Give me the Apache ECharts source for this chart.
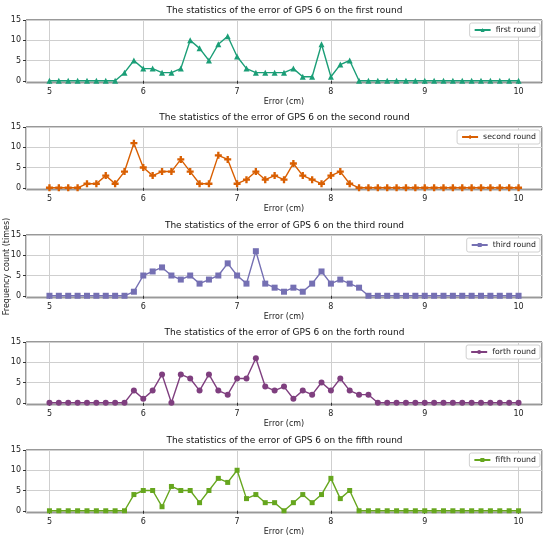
<!DOCTYPE html>
<html>
<head>
<meta charset="utf-8">
<script src="https://cdn.jsdelivr.net/npm/echarts@6/dist/echarts.min.js"></script>
<style>
html,body{margin:0;padding:0;background:#fff;}
#chart{width:550px;height:542px;}
</style>
</head>
<body>
<div id="chart"></div>
<script>
var errorValues = [5.0,5.1,5.2,5.3,5.4,5.5,5.6,5.7,5.8,5.9,6.0,6.1,6.2,6.3,6.4,6.5,6.6,6.7,6.8,6.9,7.0,7.1,7.2,7.3,7.4,7.5,7.6,7.7,7.8,7.9,8.0,8.1,8.2,8.3,8.4,8.5,8.6,8.7,8.8,8.9,9.0,9.1,9.2,9.3,9.4,9.5,9.6,9.7,9.8,9.9,10.0];
var firstRound  = [0,0,0,0,0,0,0,0,2,5,3,3,2,2,3,10,8,5,9,11,6,3,2,2,2,2,3,1,1,9,1,4,5,0,0,0,0,0,0,0,0,0,0,0,0,0,0,0,0,0,0];
var secondRound = [0,0,0,0,1,1,3,1,4,11,5,3,4,4,7,4,1,1,8,7,1,2,4,2,3,2,6,3,2,1,3,4,1,0,0,0,0,0,0,0,0,0,0,0,0,0,0,0,0,0,0];
var thirdRound  = [0,0,0,0,0,0,0,0,0,1,5,6,7,5,4,5,3,4,5,8,5,3,11,3,2,1,2,1,3,6,3,4,3,2,0,0,0,0,0,0,0,0,0,0,0,0,0,0,0,0,0];
var forthRound  = [0,0,0,0,0,0,0,0,0,3,1,3,7,0,7,6,3,7,3,2,6,6,11,4,3,4,1,3,2,5,3,6,3,2,2,0,0,0,0,0,0,0,0,0,0,0,0,0,0,0,0];
var fifthRound  = [0,0,0,0,0,0,0,0,0,4,5,5,1,6,5,5,2,5,8,7,10,3,4,2,2,0,2,4,2,4,8,3,5,0,0,0,0,0,0,0,0,0,0,0,0,0,0,0,0,0,0];
var seriesNames = ['first round','second round','third round','forth round','fifth round'];
var titles = [
  'The statistics of the error of GPS 6 on the first round',
  'The statistics of the error of GPS 6 on the second round',
  'The statistics of the error of GPS 6 on the third round',
  'The statistics of the error of GPS 6 on the forth round',
  'The statistics of the error of GPS 6 on the fifth round'
];
var xAxisTitle = 'Error (cm)';
var yAxisTitle = 'Frequency count (times)';
var allData = [firstRound, secondRound, thirdRound, forthRound, fifthRound];
var colors = ['#1b9e77','#d95f02','#7570b3','#7f3f7f','#66a61e'];
var plusPath = 'path://M-1,-3L1,-3L1,-1L3,-1L3,1L1,1L1,3L-1,3L-1,1L-3,1L-3,-1L-1,-1Z';
var symbols = ['triangle', plusPath, 'rect', 'circle', 'rect'];
var symbolSizes = [6, 7, 6, 6, 5];

var tops = [20, 127, 235, 342, 450];
var gridH = 63;
var font = 'DejaVu Sans';

var grids = [], xAxes = [], yAxes = [], series = [], titleArr = [], legends = [];
for (var i = 0; i < 5; i++) {
  grids.push({left: 26, right: 8, top: tops[i], height: gridH, show: true, borderColor: '#333', borderWidth: 1,
    backgroundColor: '#fff', containLabel: false, outerBoundsMode: 'none'});
  xAxes.push({
    type: 'value', gridIndex: i, min: 4.75, max: 10.25,
    name: xAxisTitle, nameLocation: 'middle', nameGap: 15,
    nameTextStyle: {fontFamily: font, fontSize: 8, color: '#222'},
    axisLine: {show: false},
    axisTick: {show: true, length: 3, lineStyle: {color: '#333'}},
    axisLabel: {showMinLabel: false, showMaxLabel: false, fontFamily: font, fontSize: 8, color: '#222', margin: 5,
      formatter: function (v) { return Math.abs(v - Math.round(v)) < 1e-6 ? String(Math.round(v)) : ''; }},
    splitLine: {show: true, lineStyle: {color: '#cfcfcf', width: 1}}
  });
  yAxes.push({
    type: 'value', gridIndex: i, min: -0.55, max: 15, splitNumber: 3,
    axisLine: {show: false},
    axisTick: {show: true, length: 3, lineStyle: {color: '#333'}},
    axisLabel: {showMinLabel: false, fontFamily: font, fontSize: 8, color: '#222', margin: 5},
    splitLine: {show: true, lineStyle: {color: '#cfcfcf', width: 1}}
  });
  var pts = [];
  for (var j = 0; j < errorValues.length; j++) pts.push([errorValues[j], allData[i][j]]);
  series.push({
    name: seriesNames[i], type: 'line', xAxisIndex: i, yAxisIndex: i, data: pts,
    symbol: symbols[i], symbolSize: symbolSizes[i], showAllSymbol: true,
    lineStyle: {color: colors[i], width: 1.4},
    itemStyle: {color: colors[i]},
    animation: false
  });
  titleArr.push({
    text: titles[i], left: 284.5, textAlign: 'center', top: tops[i] - 14,
    padding: 0,
    textStyle: {fontFamily: font, fontSize: 9, fontWeight: 'normal', color: '#111'}
  });
  legends.push({
    data: [seriesNames[i]], right: 10, top: tops[i] + 3,
    orient: 'vertical', backgroundColor: '#fff', borderColor: '#d0d0d0', borderWidth: 1, borderRadius: 2,
    padding: [3, 4, 3, 4], itemWidth: 16, itemHeight: 5, itemGap: 4,
    textStyle: {fontFamily: font, fontSize: 7.8, color: '#222'}
  });
}

var chart = echarts.init(document.getElementById('chart'), null, {renderer: 'canvas'});
chart.setOption({
  backgroundColor: '#fff',
  animation: false,
  title: titleArr,
  legend: legends,
  grid: grids,
  xAxis: xAxes,
  yAxis: yAxes,
  series: series,
  graphic: [{
    type: 'text', x: 7, y: tops[2] + gridH / 2, rotation: Math.PI / 2,
    style: {text: yAxisTitle, fontFamily: font, fontSize: 8, fill: '#222', align: 'center', verticalAlign: 'middle'}
  }]
});
</script>
</body>
</html>
